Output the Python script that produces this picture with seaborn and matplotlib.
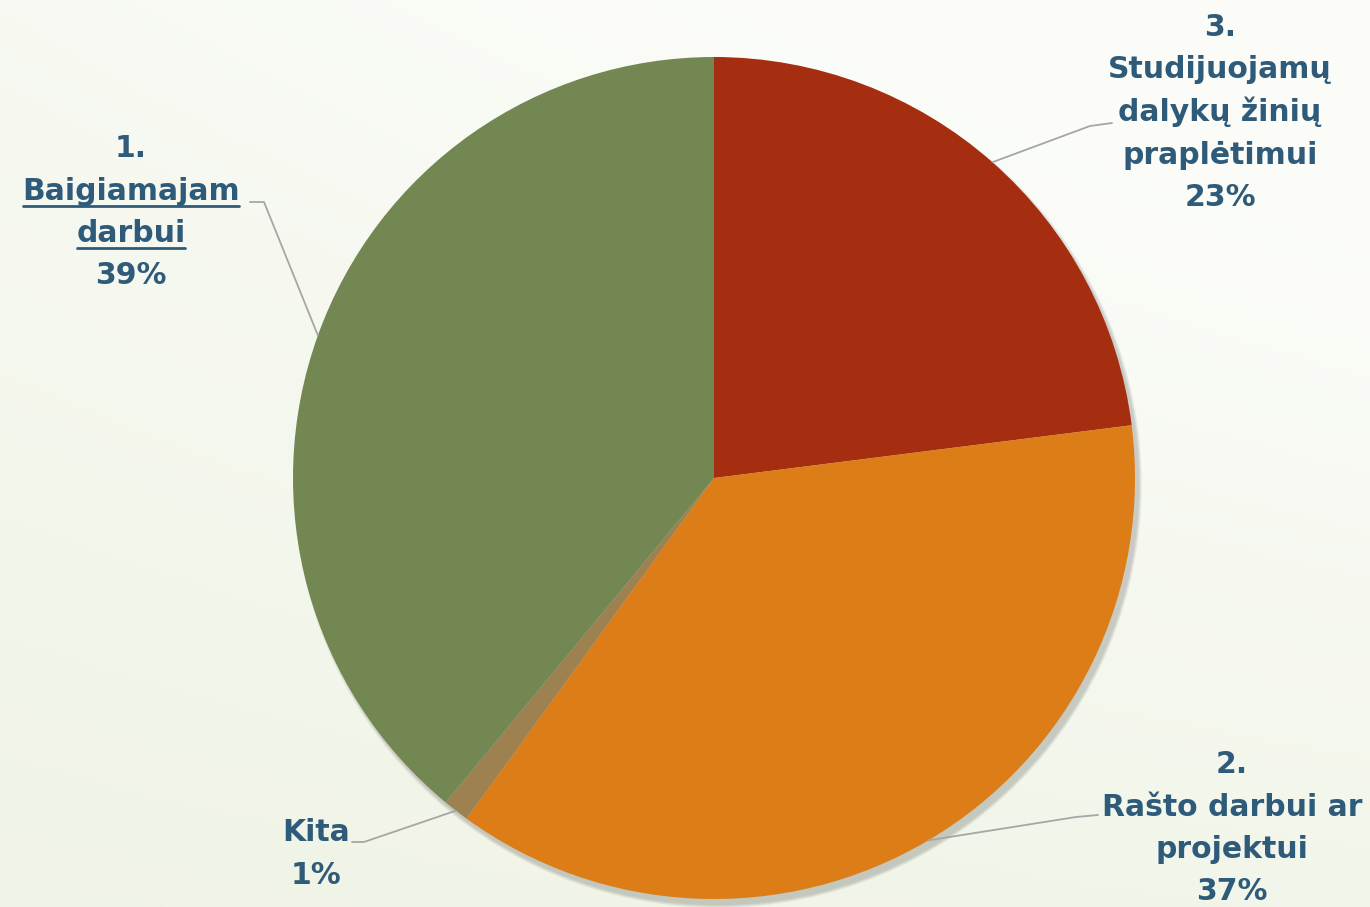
import numpy as np
import matplotlib
matplotlib.use("Agg")
import matplotlib.pyplot as plt
from matplotlib.patches import Circle
import seaborn as sns

# Data
categories = ["3. Studijuojamų dalykų žinių praplėtimui",
              "2. Rašto darbui ar projektui",
              "Kita",
              "1. Baigiamajam darbui"]
shares = [23, 37, 1, 39]
colors = ["#a52e10", "#dd7d18", "#9d8150", "#738752"]

# label lines (text, underlined) for each slice, same order as above
label_lines = [
    [("3.", False), ("Studijuojamų", False), ("dalykų žinių", False),
     ("praplėtimui", False), ("23%", False)],
    [("2.", False), ("Rašto darbui ar", False), ("projektui", False), ("37%", False)],
    [("Kita", False), ("1%", False)],
    [("1.", False), ("Baigiamajam", True), ("darbui", True), ("39%", False)],
]

sns.set_theme(style="white")
plt.rcParams["font.family"] = ["DejaVu Sans"]

W, H = 1370, 907
fig = plt.figure(figsize=(W / 100, H / 100), dpi=100)

# soft background gradient
bg = fig.add_axes([0, 0, 1, 1])
yy, xx = np.mgrid[0:1:200j, 0:1:300j]
t = np.clip(0.55 * (1 - xx) + 0.6 * yy - 0.25 + 0.35 * xx * yy, 0, 1)
c_light = np.array([0.985, 0.99, 0.975])
c_dark = np.array([0.935, 0.951, 0.890])
img = c_light[None, None, :] * (1 - t[..., None]) + c_dark[None, None, :] * t[..., None]
bg.imshow(img, extent=[0, W, 0, H], aspect="auto", origin="upper")
bg.axis("off")

ax = fig.add_axes([0, 0, 1, 1])
ax.patch.set_alpha(0)

cx, cy, r = 714, H - 478, 421

# subtle shadow, lower right only
for i in range(6):
    ax.add_patch(Circle((cx + 4, cy - 6), r + i * 0.6, color="black",
                        alpha=0.03, lw=0, zorder=0))

wedges, _ = ax.pie(shares, colors=colors, startangle=90, counterclock=False,
                   center=(cx, cy), radius=r, frame=True,
                   wedgeprops=dict(linewidth=0))
ax.set_xlim(0, W)
ax.set_ylim(0, H)
ax.axis("off")

txt_color = "#2f5b7a"
line_color = "#a6a6a6"
fs = 21.5
step = 42.5

# label layout: (center x, first baseline y in px from top, elbow, line end)
layout = [
    (1220, 36, (1090, 126), (1112, 123)),
    (1232, 773, (1076, 817), (1098, 815)),
    (316, 841, (364, 842), (352, 842)),
    (131, 157, (264, 202), (250, 202)),
]

texts_ul = []
for w, lines, (tx, ty, elbow, lend) in zip(wedges, label_lines, layout):
    mid = np.deg2rad((w.theta1 + w.theta2) / 2)
    px, py = cx + r * np.cos(mid), cy + r * np.sin(mid)
    ax.plot([px, elbow[0], lend[0]], [py, H - elbow[1], H - lend[1]],
            color=line_color, lw=1.3, zorder=3)
    for k, (s, ul) in enumerate(lines):
        t_ = ax.text(tx, H - (ty + k * step), s, ha="center", va="baseline",
                     fontsize=fs, fontweight="bold", color=txt_color, zorder=4)
        if ul:
            texts_ul.append(t_)

fig.canvas.draw()
renderer = fig.canvas.get_renderer()
for t_ in texts_ul:
    bb = t_.get_window_extent(renderer)
    ybase = t_.get_position()[1] - 6
    ax.plot([bb.x0 + 1, bb.x1 - 1], [ybase, ybase], color=txt_color, lw=2, zorder=4)

fig.savefig("out.png", dpi=100)
